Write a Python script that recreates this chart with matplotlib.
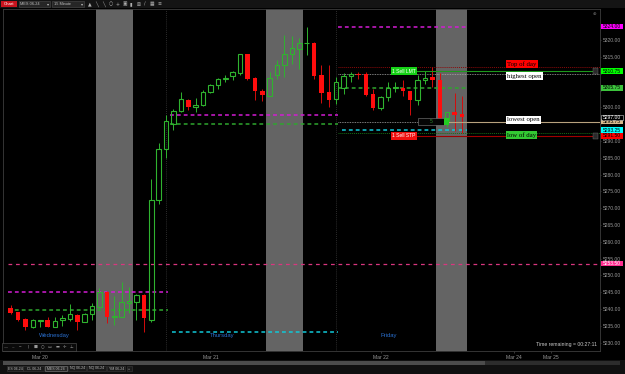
import numpy as np
import matplotlib.pyplot as plt
from matplotlib.patches import Rectangle
from matplotlib.transforms import blended_transform_factory

plt.rcParams['font.family'] = ['Liberation Sans', 'DejaVu Sans']

# MES 06-24, 15 minute bars, Wed Mar 20 -> Fri Mar 22 (one entry per bar)
opens = [5240.25, 5239.00, 5237.00, 5234.50, 5236.50, 5236.75, 5234.75, 5236.75, 5237.00, 5238.25,
         5236.25, 5238.50, 5240.50, 5245.00, 5237.75, 5237.75, 5241.75, 5242.00, 5244.25, 5236.75,
         5272.50, 5287.50, 5295.00, 5299.00, 5302.25, 5300.00, 5300.75, 5304.50, 5306.50, 5308.50,
         5309.25, 5310.25, 5315.75, 5308.75, 5304.75, 5303.50, 5309.50, 5312.50, 5315.75, 5317.25,
         5319.00, 5319.25, 5309.50, 5304.50, 5302.50, 5305.75, 5309.25, 5310.00, 5310.00, 5304.00,
         5299.75, 5303.00, 5305.75, 5305.75, 5304.75, 5302.25, 5308.25, 5309.00, 5308.25, 5296.00,
         5298.75, 5298.00]
highs = [5241.25, 5239.25, 5237.25, 5237.00, 5236.75, 5237.50, 5237.50, 5238.25, 5241.50, 5238.50,
         5238.75, 5241.75, 5246.25, 5245.25, 5243.75, 5248.00, 5246.50, 5244.50, 5244.50, 5278.75,
         5289.50, 5297.75, 5299.50, 5304.50, 5302.50, 5302.75, 5305.25, 5307.00, 5308.75, 5309.75,
         5310.75, 5316.00, 5316.00, 5309.00, 5305.50, 5310.50, 5314.00, 5321.50, 5321.25, 5320.50,
         5324.00, 5319.50, 5312.50, 5312.50, 5309.00, 5310.25, 5310.50, 5310.50, 5310.50, 5305.50,
         5303.25, 5307.50, 5307.50, 5308.00, 5305.00, 5309.50, 5310.75, 5312.00, 5310.25, 5298.75,
         5304.25, 5303.25]
lows = [5238.50, 5236.50, 5233.75, 5234.25, 5234.75, 5234.50, 5234.50, 5235.00, 5236.50, 5233.75,
        5236.00, 5236.75, 5240.25, 5235.75, 5235.25, 5237.50, 5238.75, 5236.75, 5233.25, 5236.00,
        5271.25, 5285.00, 5293.25, 5298.75, 5299.25, 5298.75, 5300.50, 5304.25, 5305.50, 5307.50,
        5308.00, 5309.50, 5308.00, 5302.25, 5301.75, 5303.25, 5308.50, 5309.00, 5313.00, 5311.50,
        5315.50, 5308.50, 5301.25, 5300.00, 5301.00, 5304.00, 5307.50, 5308.50, 5303.50, 5299.25,
        5299.25, 5302.00, 5304.50, 5303.50, 5297.75, 5300.75, 5307.00, 5306.00, 5295.00, 5294.25,
        5293.00, 5292.50]
closes = [5238.75, 5236.75, 5234.50, 5236.75, 5236.75, 5234.75, 5236.50, 5237.25, 5238.50, 5236.25,
          5238.50, 5240.75, 5245.00, 5237.75, 5238.00, 5242.00, 5242.25, 5244.25, 5237.25, 5272.50,
          5287.50, 5296.00, 5299.00, 5302.50, 5300.00, 5300.75, 5304.50, 5306.75, 5308.50, 5308.75,
          5310.50, 5315.75, 5308.50, 5305.00, 5303.75, 5308.75, 5312.50, 5315.75, 5317.50, 5319.25,
          5319.25, 5309.25, 5304.25, 5302.25, 5307.50, 5309.25, 5310.00, 5309.50, 5303.75, 5299.75,
          5303.00, 5305.75, 5306.00, 5305.00, 5302.25, 5308.25, 5308.75, 5308.25, 5295.50, 5298.50,
          5297.75, 5297.00]

# prior-day levels drawn over each session (high, close/mid, low)
wed_levels = [5245.00, 5239.75]
thu_levels = [5297.75, 5295.00, 5233.25]
fri_levels = [5324.00, 5305.75, 5293.25]
pink_level = 5253.50

# friday markers / orders
top_of_day = 5312.00
highest_open = 5310.00
lowest_open = 5295.50
low_of_day = 5292.50
sell_lmt = 5310.75
sell_stp = 5291.50
avg_price = 5295.75
position_qty = 5

tag_prices = [5324.00, 5310.75, 5305.75, 5295.75, 5297.00, 5293.25, 5291.50, 5253.50]
tag_fc = ['#ff00ff', '#00ff00', '#3cc43c', '#d8b88c', '#000000', '#00ffff', '#ff0000', '#ff2d90']
tag_tc = ['#000000', '#000000', '#000000', '#000000', '#ffffff', '#000000', '#000000', '#ffffff']

date_ticks = [4, 27, 50, 68, 73]
date_labels = ['Mar 20', 'Mar 21', 'Mar 22', 'Mar 24', 'Mar 25']
day_names = ['Wednesday', 'Thursday', 'Friday']
day_pos = [5.85, 28.55, 51.1]
session_breaks = [21, 44]
shaded = [(11.5, 16.5), (34.5, 39.5), (57.5, 61.6)]

o = np.array(opens)
h = np.array(highs)
l = np.array(lows)
c = np.array(closes)
x = np.arange(len(o))
up = c >= o
top = np.maximum(o, c)
bot = np.minimum(o, c)

GREEN = '#2fb32f'
RED = '#ff0d0d'
XMAX = 79.64

fig = plt.figure(figsize=(6.25, 3.74), dpi=100, facecolor='black')
ax = fig.add_axes([3/625, 23/374, 597/625, 342.5/374], facecolor='black')
ax.set_xlim(-1.04, XMAX)
ax.set_ylim(5227.5, 5329.4)


def axx(px):
    # pixel column -> axes fraction (layout only)
    return (px - 3) / 597.0


bt = blended_transform_factory(ax.transAxes, ax.transData)

# session shading and separators
for a, b in shaded:
    ax.axvspan(a, b, color='#646464', lw=0, zorder=0)
for s in session_breaks:
    ax.axvline(s, color='#3a3a3a', lw=0.6, ls=(0, (1, 1.5)), zorder=0.5)

# level lines
dash = (0, (2.5, 2))
cols = ['#d41cd4', '#2ea62e', '#10c8d8']
for p, col in zip(wed_levels, cols):
    ax.hlines(p, -0.35, 21.3, color=col, lw=1.1, ls=dash, zorder=1)
for p, col, x0 in zip(thu_levels, cols, [21.5, 21.5, 21.8]):
    ax.hlines(p, x0, 44.2, color=col, lw=1.1, ls=dash, zorder=1)
for p, col, x0 in zip(fri_levels, cols, [44.2, 44.2, 44.8]):
    ax.hlines(p, x0, 61.6, color=col, lw=1.1, ls=dash, zorder=1)
ax.hlines(pink_level, -0.35, XMAX, color='#d8367f', lw=0.9, ls=(0, (3, 3)), zorder=1)

# friday dotted markers
ax.hlines(top_of_day, 44.2, XMAX, color='#8a0a0a', lw=0.7, ls=(0, (1, 1)), zorder=1)
ax.hlines(highest_open, 44.2, XMAX, color='#a8a8a8', lw=0.6, ls=(0, (1, 1)), zorder=1)
ax.hlines(lowest_open, 44.2, XMAX, color='#a8a8a8', lw=0.6, ls=(0, (1, 1)), zorder=1)
ax.hlines(low_of_day, 44.2, XMAX, color='#146e14', lw=0.7, ls=(0, (1, 1)), zorder=1)

# candles
ax.vlines(x[up], top[up], h[up], color=GREEN, lw=0.7, zorder=2)
ax.vlines(x[up], l[up], bot[up], color=GREEN, lw=0.7, zorder=2)
ax.bar(x[up], np.maximum(top - bot, 0.15)[up], bottom=bot[up], width=0.6,
       facecolor='none', edgecolor=GREEN, lw=0.8, zorder=3)
ax.vlines(x[~up], l[~up], h[~up], color='#d40c0c', lw=0.7, zorder=2)
ax.bar(x[~up], (top - bot)[~up], bottom=bot[~up], width=0.6, color=RED, lw=0, zorder=3)

# order lines
ax.plot([axx(417), axx(595)], [sell_lmt, sell_lmt], transform=bt, color='#1c9a1c', lw=0.8, zorder=4)
ax.plot([axx(417), axx(595)], [sell_stp, sell_stp], transform=bt, color='#a00000', lw=0.8, zorder=4)
ax.plot([axx(449), axx(600)], [avg_price, avg_price], transform=bt, color='#b8a27e', lw=0.8, zorder=4)
for p in [sell_lmt, sell_stp]:
    ax.add_patch(Rectangle((axx(592.5), p - 0.9), 5.5/597, 1.8, transform=bt,
                           fc='#2a2a2a', ec='#707070', lw=0.3, zorder=5))
ax.text(axx(403.7), sell_lmt, '1 Sell LMT', transform=bt, ha='center', va='center',
        fontsize=3.6, color='white', zorder=6,
        bbox=dict(boxstyle='square,pad=0.25', fc='#16d216', ec='none'))
ax.text(axx(403.7), sell_stp, '1 Sell STP', transform=bt, ha='center', va='center',
        fontsize=3.6, color='white', zorder=6,
        bbox=dict(boxstyle='square,pad=0.25', fc='#f01010', ec='none'))
ax.add_patch(Rectangle((axx(418.3), avg_price - 1.15), 26/597, 2.3, transform=bt,
                       fc='#050505', ec='#808080', lw=0.4, zorder=5))
ax.text(axx(431), avg_price, str(position_qty), transform=bt, ha='center', va='center',
        fontsize=3.6, color='#2a8a2a', zorder=6)
ax.add_patch(Rectangle((axx(444.3), avg_price - 1.15), 4.8/597, 2.3, transform=bt,
                       fc='#22cc22', ec='none', zorder=5))

# text markers
for txt, p, fc, va in [('Top of day', top_of_day, '#ff0000', 'bottom'),
                       ('highest open', highest_open, '#ffffff', 'top'),
                       ('lowest open', lowest_open, '#ffffff', 'bottom'),
                       ('low of day', low_of_day, '#33c833', 'top')]:
    ax.text(axx(507), p, txt, transform=bt, ha='left', va=va, fontsize=4.9,
            family='Liberation Serif', color='black', zorder=6,
            bbox=dict(boxstyle='square,pad=0.18', fc=fc, ec='none'))

# day names and timer
for name, k in zip(day_names, day_pos):
    ax.text(k, 0.044, name, transform=blended_transform_factory(ax.transData, ax.transAxes),
            ha='center', va='center', fontsize=4.2, color='#2a70d0', zorder=6)
ax.text(axx(597), 0.018, 'Time remaining = 00:27:11', transform=ax.transAxes,
        ha='right', va='center', fontsize=3.7, color='#c8c8c8', zorder=6)

# axes styling; price labels hidden where a tag sits on top of them
yt = np.arange(5230, 5321, 5)
ax.yaxis.tick_right()
ax.set_yticks(yt)
ax.set_yticklabels(['' if min(abs(v - t) for t in tag_prices) < 1.0 else '%.2f' % v for v in yt])
ax.tick_params(axis='y', colors='#9a9a9a', labelsize=3.6, length=1, width=0.4, pad=1.2)
ax.set_xticks(date_ticks)
ax.set_xticklabels(date_labels)
ax.tick_params(axis='x', colors='#9a9a9a', labelsize=3.6, length=1.5, width=0.4, pad=1.5)
ax.tick_params(color='#606060')
for sp in ax.spines.values():
    sp.set_color('#3c3c3c')
    sp.set_linewidth(0.6)

# price tags on the axis
for p, fc, tc in zip(tag_prices, tag_fc, tag_tc):
    ec = '#d0d0d0' if fc == '#000000' else 'none'
    ax.add_patch(Rectangle((axx(600.5), p - 0.82), 22.5/597, 1.64, transform=bt,
                           fc=fc, ec=ec, lw=0.4, clip_on=False, zorder=8))
    ax.text(axx(611.8), p, '%.2f' % p, transform=bt, ha='center', va='center',
            fontsize=3.6, color=tc, clip_on=False, zorder=9)

# window chrome (pixel coordinates)
ui = fig.add_axes([0, 0, 1, 1], zorder=5)
ui.set_xlim(0, 625)
ui.set_ylim(374, 0)
ui.axis('off')
ui.patch.set_visible(False)


def box(x0, y0, w, hh, fc, ec='none', lw=0.4):
    ui.add_patch(Rectangle((x0, y0), w, hh, fc=fc, ec=ec, lw=lw))


box(0, 0, 625, 8.3, '#141414')
box(0.5, 0.8, 16.5, 6.5, '#c8141e')
ui.text(8.7, 4.1, 'Chart', ha='center', va='center', fontsize=3.2, color='white')
for x0, w, t in [(18.5, 31.5, 'MES 06-24'), (52, 32, '15 Minute')]:
    box(x0, 1.2, w, 5.8, '#262626', '#4a4a4a')
    ui.text(x0 + 1.5, 4.1, t, ha='left', va='center', fontsize=2.8, color='#c0c0c0')
    ui.text(x0 + w - 2, 4.1, '\u25be', ha='center', va='center', fontsize=3, color='#c0c0c0',
            family='DejaVu Sans')
icons = ['\u25b2', '\u2572', '\u2572', '\u25cb', '+', '\u25a3', '\u25ae', '\u22a0', '\u2215', '\u25a6', '\u2261']
for i, ic in enumerate(icons):
    ui.text(90 + i * 6.9, 4.1, ic, ha='center', va='center', fontsize=3.4, color='#b0b0b0',
            family='DejaVu Sans')
ui.text(594, 14, '\u2295', ha='center', va='center', fontsize=3.2, color='#707070', family='DejaVu Sans')

# drawing toolbar bottom-left
box(2, 343, 74, 8, '#0a0a0a', '#5a5a5a')
tools = ['\u2014', '\u2012', '\u2504', '|', '\u25a0', '\u25cb', '\u25ad', '\u25ac', '\u271b', '\u22a5']
for i, tl in enumerate(tools):
    ui.text(6 + i * 7.3, 347, tl, ha='center', va='center', fontsize=3, color='#9a9a9a',
            family='DejaVu Sans')

# scrollbar and tabs
box(0, 360, 625, 14, '#101010')
box(3, 361.2, 617, 3.6, '#2c2c2c')
box(3, 361.2, 482, 3.6, '#4c4c4c')
tabs = [(7.3, 15.4, 'ES 06-24'), (23.3, 20.7, 'CL 06-24'), (45, 21.7, 'MES 06-24'),
        (68.3, 17.7, 'NQ 06-24'), (87.3, 18.7, 'NQ 06-24'), (107.3, 17.7, 'YM 06-24'),
        (126.7, 5, '+')]
for x0, w, t in tabs:
    sel = t == 'MES 06-24'
    box(x0, 365.7, w, 5.6, '#262626' if sel else '#1a1a1a', '#8a8a8a' if sel else '#3a3a3a')
    ui.text(x0 + w / 2, 368.5, t, ha='center', va='center', fontsize=2.5, color='#b8b8b8')

fig.savefig('out.png', dpi=100, facecolor='black')
